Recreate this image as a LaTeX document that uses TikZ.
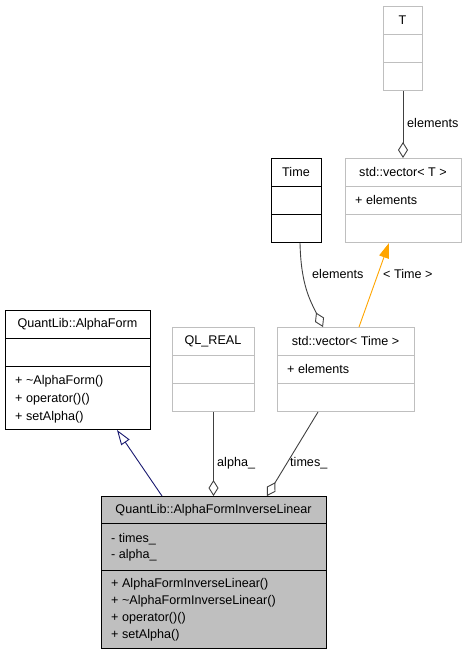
\documentclass[tikz,border=0pt]{standalone}
\usepackage{fontspec}
\setmainfont{Liberation Sans}
\usetikzlibrary{arrows.meta}
\definecolor{boxgray}{HTML}{BFBFBF}
\definecolor{edgegray}{HTML}{404040}
\definecolor{inhnavy}{HTML}{191970}
\definecolor{tmplorange}{HTML}{FFA500}
\begin{document}
\begin{tikzpicture}[x=1pt,y=-1pt,
  every node/.style={font=\fontsize{12.6}{15}\selectfont},
  cbox/.style={draw=black, line width=1pt, inner sep=0pt, anchor=north west},
  gbox/.style={draw=boxgray, line width=1pt, inner sep=0pt, anchor=north west},
  hdr/.style={inner sep=0pt, anchor=center},
  mem/.style={inner sep=0pt, anchor=west},
  lbl/.style={inner sep=0pt, anchor=west},
  agg/.style={draw=edgegray, line width=0.9pt, -{Diamond[open,length=16pt,width=10pt]}},
  inh/.style={draw=inhnavy, line width=0.9pt, -{Triangle[open,length=15pt,width=10pt]}},
  tmpl/.style={draw=tmplorange, line width=0.9pt, -{Triangle[length=15pt,width=10pt]}}
]
\useasboundingbox (0,0) rectangle (465,656);

% QuantLib::AlphaForm
\node[cbox, minimum width=145pt, minimum height=119pt] (af) at (5,310) {};
\draw[black, line width=1pt] (5,338) -- (150,338) (5,366) -- (150,366);
\node[hdr] (afh) at (77.5,324) {QuantLib::AlphaForm};
\node[mem] (afm1) at (15,381) {+ \textasciitilde AlphaForm()};
\node[mem] (afm2) at (15,399) {+ operator()()};
\node[mem] (afm3) at (15,417) {+ setAlpha()};

% QL_REAL
\node[gbox, minimum width=82pt, minimum height=84pt] (ql) at (172,327) {};
\draw[boxgray, line width=1pt] (172,355) -- (254,355) (172,383) -- (254,383);
\node[hdr] (qlh) at (213,341) {QL\_REAL};

% std::vector< Time >
\node[gbox, minimum width=137pt, minimum height=84pt] (vtt) at (277,327) {};
\draw[boxgray, line width=1pt] (277,355) -- (414,355) (277,383) -- (414,383);
\node[hdr] (vtth) at (345.5,341) {std::vector< Time >};
\node[mem] (vttm) at (287,369) {+ elements};

% Time
\node[cbox, minimum width=50pt, minimum height=84pt] (time) at (271,158) {};
\draw[black, line width=1pt] (271,186) -- (321,186) (271,214) -- (321,214);
\node[hdr] (timeh) at (296,172) {Time};

% std::vector< T >
\node[gbox, minimum width=116pt, minimum height=84pt] (vt) at (345,158) {};
\draw[boxgray, line width=1pt] (345,186) -- (461,186) (345,214) -- (461,214);
\node[hdr] (vth) at (403,172) {std::vector< T >};
\node[mem] (vtm) at (355,200) {+ elements};

% T
\node[gbox, minimum width=39pt, minimum height=84pt] (t) at (383,6) {};
\draw[boxgray, line width=1pt] (383,34) -- (422,34) (383,62) -- (422,62);
\node[hdr] (th) at (402.5,20) {T};

% QuantLib::AlphaFormInverseLinear
\node[cbox, fill=boxgray, minimum width=225pt, minimum height=152pt] (main) at (101,496) {};
\draw[black, line width=1pt] (101,523) -- (326,523) (101,570) -- (326,570);
\node[hdr] (mainh) at (213.5,510) {QuantLib::AlphaFormInverseLinear};
\node[mem] (mainf1) at (111,539) {- times\_};
\node[mem] (mainf2) at (111,555) {- alpha\_};
\node[mem] (mainm1) at (111,584) {+ AlphaFormInverseLinear()};
\node[mem] (mainm2) at (111,601) {+ \textasciitilde AlphaFormInverseLinear()};
\node[mem] (mainm3) at (111,618) {+ operator()()};
\node[mem] (mainm4) at (111,635) {+ setAlpha()};

% edges
\draw[agg] (t.south) -- ([xshift=0pt]vt.north -| t.south);
\node[lbl] (l1) at (407,123) {elements};

\draw[agg] ([xshift=29pt]time.south west) .. controls (301,285) and (310,300) .. ([xshift=46pt]vtt.north west);
\node[lbl] (l2) at (312,274) {elements};

\draw[tmpl] ([xshift=82pt]vtt.north west) -- ([xshift=44pt]vt.south west);
\node[lbl] (l3) at (383,274) {< Time >};

\draw[agg] (ql.south) -- (main.north -| ql.south);
\node[lbl] (l4) at (217,463) {alpha\_};

\draw[agg] ([xshift=41pt]vtt.south west) -- ([xshift=166pt]main.north west);
\node[lbl] (l5) at (290,463) {times\_};

\draw[inh] ([xshift=61pt]main.north west) -- ([xshift=112pt]af.south west);
\end{tikzpicture}
\end{document}
